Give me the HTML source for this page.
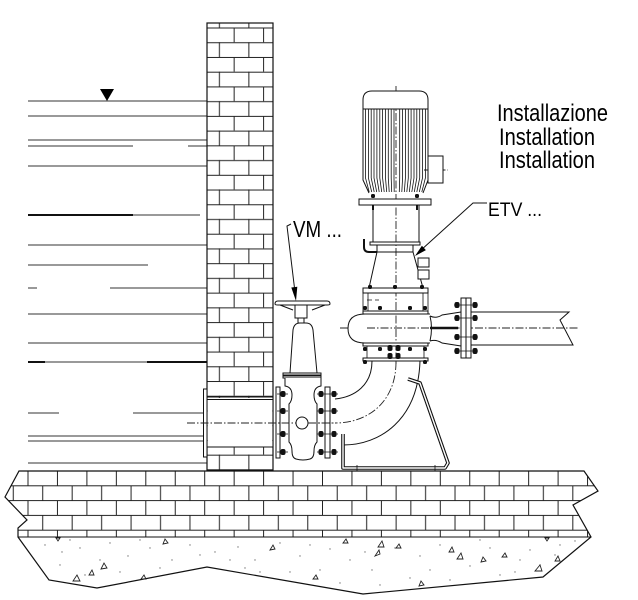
<!DOCTYPE html>
<html><head><meta charset="utf-8"><style>html,body{margin:0;padding:0;background:#fff}svg{display:block}</style></head>
<body>
<svg width="638" height="600" viewBox="0 0 638 600" xmlns="http://www.w3.org/2000/svg">
<defs>
<pattern id="wb" patternUnits="userSpaceOnUse" x="27.5" y="27.5" width="29.45" height="29.46">
<rect x="0" y="0" width="29.45" height="1" fill="#222"/>
<rect x="0" y="14.73" width="29.45" height="1" fill="#222"/>
<rect x="0" y="0" width="1" height="14.73" fill="#222"/>
<rect x="14.72" y="14.73" width="1" height="14.73" fill="#222"/>
</pattern>
<pattern id="gb" patternUnits="userSpaceOnUse" x="27.5" y="470.5" width="29.45" height="29.6">
<rect x="0" y="0" width="29.45" height="1" fill="#222"/>
<rect x="0" y="14.8" width="29.45" height="1" fill="#222"/>
<rect x="0" y="0" width="1" height="14.8" fill="#222"/>
<rect x="14.72" y="14.8" width="1" height="14.8" fill="#222"/>
</pattern>
<clipPath id="gc"><polygon points="19,471 584,471 598,491 573,505 591,537 18,537 18,528 27,520 5,497"/></clipPath>
<g id="bolt"><rect x="-2.5" y="-3" width="5" height="6" rx="2" fill="#111"/></g>
<g id="sb"><rect x="-2" y="-2" width="4" height="4" rx="1.5" fill="#111"/></g>
</defs>

<rect width="638" height="600" fill="#fff"/>

<!-- water lines -->
<g stroke="#333" stroke-width="1" fill="none">
<path d="M28,101H207 M28,116H207 M28,140H207 M28,146H133 M188,146H207 M28,166H207 M133,215H200 M28,245H207 M28,265H148 M28,288H37 M110,288H207 M28,314H207 M28,343H207 M28,362H207 M28,413H59 M133,413H204 M28,436H204 M28,441H204 M28,463H207"/>
<path d="M28,215H133 M28,362H45 M147,362H207" stroke-width="2" stroke="#111"/>
</g>
<polygon points="100,89 114,89 107,101" fill="#000"/>

<!-- wall -->
<rect x="207" y="23" width="66" height="447" fill="url(#wb)"/>
<rect x="207" y="23" width="66" height="447" fill="none" stroke="#111" stroke-width="1.2"/>
<!-- sleeve through wall -->
<rect x="207.7" y="398" width="64.6" height="49" fill="#fff"/>
<path d="M204,397H273 M204,399.5H273 M207,447H273" stroke="#111" stroke-width="1" fill="none"/>
<rect x="203.5" y="389" width="3.5" height="68" fill="#fff" stroke="#111" stroke-width="1"/>

<!-- ground bricks -->
<rect x="0" y="470" width="600" height="68" fill="url(#gb)" clip-path="url(#gc)"/>
<path d="M18,537H591" stroke="#111" stroke-width="1"/>
<polygon points="19,471 584,471 598,491 573,505 591,537 543,577 363,594 207,567 97,588 49,580 18,537 18,528 27,520 5,497" fill="none" stroke="#111" stroke-width="1.2"/>

<!-- concrete dots -->
<g fill="#777">
<circle cx="45" cy="545" r=".7"/><circle cx="62" cy="552" r=".7"/><circle cx="80" cy="548" r=".7"/><circle cx="110" cy="543" r=".7"/><circle cx="128" cy="556" r=".7"/><circle cx="150" cy="548" r=".7"/><circle cx="172" cy="560" r=".7"/><circle cx="190" cy="545" r=".7"/><circle cx="215" cy="552" r=".7"/><circle cx="238" cy="547" r=".7"/><circle cx="255" cy="560" r=".7"/><circle cx="280" cy="543" r=".7"/><circle cx="300" cy="556" r=".7"/><circle cx="330" cy="549" r=".7"/><circle cx="350" cy="560" r=".7"/><circle cx="372" cy="570" r=".7"/><circle cx="395" cy="548" r=".7"/><circle cx="420" cy="556" r=".7"/><circle cx="440" cy="545" r=".7"/><circle cx="470" cy="566" r=".7"/><circle cx="490" cy="548" r=".7"/><circle cx="515" cy="572" r=".7"/><circle cx="530" cy="550" r=".7"/><circle cx="560" cy="545" r=".7"/><circle cx="575" cy="541" r=".7"/><circle cx="60" cy="565" r=".7"/><circle cx="85" cy="575" r=".7"/><circle cx="120" cy="572" r=".7"/><circle cx="160" cy="568" r=".7"/><circle cx="230" cy="560" r=".7"/><circle cx="260" cy="572" r=".7"/><circle cx="290" cy="572" r=".7"/><circle cx="320" cy="570" r=".7"/><circle cx="340" cy="583" r=".7"/><circle cx="380" cy="585" r=".7"/><circle cx="410" cy="578" r=".7"/><circle cx="450" cy="580" r=".7"/><circle cx="500" cy="575" r=".7"/><circle cx="520" cy="560" r=".7"/><circle cx="555" cy="555" r=".7"/><circle cx="100" cy="560" r=".7"/><circle cx="140" cy="540" r=".7"/><circle cx="200" cy="555" r=".7"/><circle cx="245" cy="568" r=".7"/><circle cx="310" cy="545" r=".7"/><circle cx="365" cy="552" r=".7"/><circle cx="430" cy="570" r=".7"/><circle cx="480" cy="540" r=".7"/><circle cx="540" cy="565" r=".7"/><circle cx="70" cy="540" r=".7"/>
</g>
<g fill="none" stroke="#222" stroke-width="0.9">
<path d="M163,544 l5,-1 l-3,-4 z"/><path d="M101,569 l6,-1 l-3,-5 z"/><path d="M89,575 l5,0 l-2,-5 z"/><path d="M73,581 l7,0 l-3,-6 z"/><path d="M141,579 l5,0 l-2,-4 z"/><path d="M270,550 l5,-1 l-2,-4 z"/><path d="M313,579 l5,0 l-2,-4 z"/><path d="M343,543 l5,0 l-2,-4 z"/><path d="M378,547 l6,0 l-2,-6 z"/><path d="M396,548 l5,0 l-2,-4 z"/><path d="M375,556 l5,-2 l-1,-4 z"/><path d="M449,552 l5,0 l-2,-5 z"/><path d="M457,559 l6,0 l-2,-6 z"/><path d="M481,562 l5,-1 l-3,-4 z"/><path d="M502,557 l5,0 l-2,-4 z"/><path d="M535,571 l7,0 l-2,-6 z"/><path d="M555,561 l5,0 l-2,-5 z"/><path d="M419,586 l5,-1 l-3,-4 z"/><path d="M545,538 l4,0 l-2,3 z"/><path d="M56,538 l4,0 l-2,3 z"/>
</g>

<!-- centerlines -->
<g stroke="#222" stroke-width="0.9" fill="none" stroke-dasharray="8 2 1.5 2">
<path d="M396,86V365"/>
<path d="M187,423H335"/>
<path d="M396,362 C396,400 370,423 335,423"/>
<path d="M340,328H578"/>
<path d="M424,170H448"/>
</g>

<!-- MOTOR -->
<g stroke="#111" stroke-width="1" fill="none">
<path d="M363,109 V100 Q363,91 372,91 H419 Q428,91 428,100 V109 Z" fill="#fff"/>
<path d="M363,109 V180 L369,193 M428,109 V180 L423,193"/>
<path stroke-width="0.8" d="M365.5,109V178L369.2,192 M368.4,109V178L371.7,192 M371.2,109V178L374.2,192 M374,109V178L376.7,192 M376.9,109V178L379.2,192 M379.8,109V178L381.7,192 M382.6,109V178L384.2,192 M385.5,109V178L386.7,192 M388.3,109V178L389.2,192 M391.2,109V178L391.7,192 M394,109V178L394.2,192 M399.7,109V178L399.3,192 M402.6,109V178L401.8,192 M405.4,109V178L404.3,192 M408.3,109V178L406.8,192 M411.1,109V178L409.3,192 M414,109V178L411.8,192 M416.8,109V178L414.3,192 M419.7,109V178L416.8,192 M422.5,109V178L419.3,192 M425.4,109V178L421.8,192"/>
<rect x="428" y="156" width="15" height="27" fill="#fff"/>
<rect x="359" y="199" width="72" height="6" fill="#fff"/>
<path d="M373,205V242 M419,205V242"/>
<path d="M373,205V210 M417,205V210" stroke-width="2"/>
<rect x="370" y="242" width="50" height="3" fill="#fff"/>
<path d="M377,245V252 M413,245V252 M377,252H413"/>
<path d="M377,252 L369,288 M413,252 L423,288"/>
<path d="M364,239 V247 Q364,252 369,252 H377" stroke-width="2"/>
<rect x="418" y="258" width="11" height="9" fill="#fff"/>
<rect x="418" y="270" width="11" height="9" fill="#fff"/>
</g>
<use href="#sb" x="373" y="196"/><use href="#sb" x="417" y="196"/>

<!-- PUMP -->
<g stroke="#111" stroke-width="1" fill="none">
<rect x="363" y="288" width="65" height="5" fill="#fff"/>
<path d="M363,293V311 M428,293V311 M368,293V311 M423,293V311" stroke-width="0.8"/>
<path d="M367,300H372 M375,300H379" stroke-width="0.8"/>
<rect x="363" y="311" width="65" height="3" fill="#fff"/>
<path d="M365,314 Q348,314 348,328.5 Q348,343 365,343" fill="#fff"/>
<path d="M363,314H430 M363,343H430"/>
<path d="M430,316 Q433,328 430,341"/>
<path d="M430,316 Q436,319 442,315 L461,312 M430,341 Q436,339 442,343 L461,346"/>
<path d="M430,328H458" stroke-width="2.5"/>
<rect x="363" y="343" width="65" height="3" fill="#fff"/>
<path d="M367,346V358 M424,346V358" stroke-width="0.8"/>
<rect x="363" y="358" width="65" height="3" fill="#fff"/>
<!-- discharge -->
<rect x="461" y="298" width="5" height="60" fill="#fff"/>
<rect x="466" y="298" width="5" height="60" fill="#fff"/>
<path d="M471,312 H569 L560,320 L573,345 H471"/>
<path d="M454,305H478 M454,318H478 M454,337H478 M454,351H478" stroke-width="0.8"/>
</g>
<g>
<use href="#sb" x="370" y="287"/><use href="#sb" x="395" y="287"/><use href="#sb" x="422" y="287"/>
<use href="#sb" x="365" y="308"/><use href="#sb" x="380" y="308"/><use href="#sb" x="410" y="308"/><use href="#sb" x="425" y="308"/>
<use href="#sb" x="365" y="349"/><use href="#sb" x="380" y="349"/><use href="#sb" x="410" y="349"/><use href="#sb" x="425" y="349"/>
<use href="#bolt" x="390" y="348"/><use href="#bolt" x="398" y="348"/><use href="#bolt" x="390" y="356"/><use href="#bolt" x="398" y="356"/>
<use href="#sb" x="365" y="362"/><use href="#sb" x="425" y="362"/>
<use href="#bolt" x="457" y="305"/><use href="#bolt" x="475" y="305"/>
<use href="#bolt" x="457" y="318"/><use href="#bolt" x="475" y="318"/>
<use href="#bolt" x="457" y="337"/><use href="#bolt" x="475" y="337"/>
<use href="#bolt" x="457" y="351"/><use href="#bolt" x="475" y="351"/>
</g>

<!-- ELBOW -->
<g stroke="#111" stroke-width="1" fill="none">
<path d="M372,361 C372,385 355,397 335,399"/>
<path d="M420,361 C418,420 380,445 343,445"/>
</g>
<!-- support bracket -->
<polyline points="343,434 343,468 445,468 448,463 420,383 408,379" fill="none" stroke="#111" stroke-width="3.6" stroke-linejoin="round"/>
<polyline points="343,434 343,468 445,468 448,463 420,383 408,379" fill="none" stroke="#fff" stroke-width="1.4" stroke-linejoin="round"/>
<path d="M357,465V471 M435,465V471" stroke="#111" stroke-width="0.8"/>

<!-- VALVE -->
<g stroke="#111" stroke-width="1" fill="none">
<path d="M275,304 Q275,301 278,301 H327 Q330,301 330,304 Q330,305 327,305 H278 Q275,305 275,304 Z" fill="#fff"/>
<path d="M280,305 L293,310 M325,305 L312,310"/>
<rect x="295" y="305" width="12" height="13" fill="#fff"/>
<rect x="298" y="318" width="6" height="5" fill="#fff"/>
<path d="M290,373 L293,330 Q294,323 300,323 H306 Q312,323 313,330 L317,373" fill="#fff"/>
<rect x="283" y="373" width="38" height="5" fill="#fff"/>
<path d="M283,375.5H321" stroke-width="2"/>
<path d="M285,378 V386 Q292,387 292,395 Q292,401 289,404 V442 Q292,445 292,451 Q292,458 296,459 Q303,461 310,459 Q314,458 314,451 Q314,445 317,442 V404 Q314,401 314,395 Q314,387 321,386 V378" fill="#fff"/>
<rect x="276" y="387" width="4" height="71" fill="#fff"/>
<rect x="325" y="387" width="5" height="71" fill="#fff"/>
<circle cx="302" cy="423" r="6" fill="#fff"/>
<path d="M277,394H288 M277,411H288 M277,434H288 M277,452H288 M317,394H338 M317,411H338 M317,434H338 M317,452H338" stroke-width="0.8"/>
</g>
<path d="M187,423H296 M308,423H335" stroke="#222" stroke-width="0.9" stroke-dasharray="8 2 1.5 2"/>
<g>
<use href="#bolt" x="283" y="394"/><use href="#bolt" x="283" y="411"/><use href="#bolt" x="283" y="434"/><use href="#bolt" x="283" y="452"/>
<use href="#bolt" x="321" y="394"/><use href="#bolt" x="321" y="411"/><use href="#bolt" x="321" y="434"/><use href="#bolt" x="321" y="452"/>
<use href="#bolt" x="334" y="394"/><use href="#bolt" x="334" y="411"/><use href="#bolt" x="334" y="434"/><use href="#bolt" x="334" y="452"/>
</g>

<!-- leaders -->
<path d="M291,224 L287,226 L294.5,288" stroke="#111" stroke-width="1" fill="none"/>
<polygon points="296,301 297.3,286.7 291.3,287.5" fill="#000"/>
<path d="M487,203 H473 L420,251" stroke="#111" stroke-width="1" fill="none"/>
<polygon points="415,256 425.9,250.1 421.9,245.7" fill="#000"/>

<!-- text -->
<g font-family="'Liberation Sans', sans-serif" fill="#000">
<text x="497" y="121" font-size="24" textLength="111" lengthAdjust="spacingAndGlyphs">Installazione</text>
<text x="499" y="145" font-size="24" textLength="96" lengthAdjust="spacingAndGlyphs">Installation</text>
<text x="499" y="168" font-size="24" textLength="96" lengthAdjust="spacingAndGlyphs">Installation</text>
<text x="488" y="216" font-size="19" textLength="54" lengthAdjust="spacingAndGlyphs">ETV ...</text>
<text x="293" y="237" font-size="23" textLength="49" lengthAdjust="spacingAndGlyphs">VM ...</text>
</g>
</svg>
</body></html>
